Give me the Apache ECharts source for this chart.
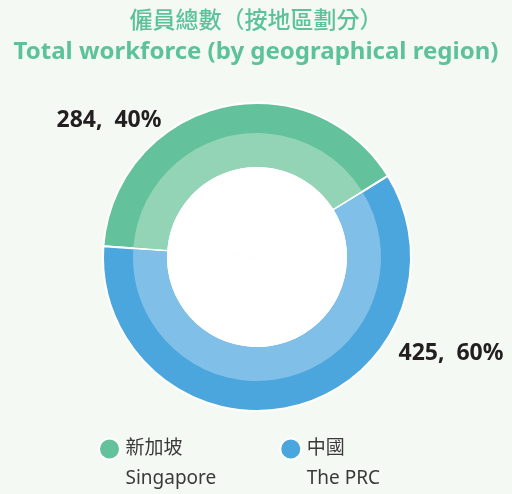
<!DOCTYPE html>
<html>
<head>
<meta charset="utf-8">
<script src="https://cdn.jsdelivr.net/npm/echarts@6/dist/echarts.min.js"></script>
<style>
  html, body { margin: 0; padding: 0; background: #f4f9f3; }
  #chart { width: 512px; height: 494px; }
</style>
</head>
<body>
<div id="chart"></div>
<script>
const regionNamesZh = ['新加坡', '中國']
const regionNamesEn = ['Singapore', 'The PRC']
const headcounts = [284, 425]
const darkColors = ['#63c29b', '#4aa6dc']
const lightColors = ['#93d4b7', '#80bfe7']

const FONT = '"Noto Sans", "Noto Sans CJK TC", sans-serif'
const labelPos = [[109, 120], [451, 353]]

const chart = echarts.init(document.getElementById('chart'))

const seriesData = (colors) => headcounts.map((v, i) => ({
  name: regionNamesZh[i],
  value: v,
  itemStyle: { color: colors[i] }
}))

chart.setOption({
  backgroundColor: '#f4f9f3',
  animation: false,
  title: [
    {
      text: '僱員總數（按地區劃分）',
      left: 'center',
      top: 3,
      textStyle: { color: '#5dc29a', fontSize: 23, fontWeight: 500, fontFamily: '"Noto Sans CJK TC", sans-serif' }
    },
    {
      text: 'Total workforce (by geographical region)',
      left: 'center',
      top: 35,
      textStyle: { color: '#5dc29a', fontSize: 24, fontWeight: 'bold', fontFamily: FONT }
    }
  ],
  legend: {
    left: 93,
    top: 399,
    itemWidth: 22,
    itemHeight: 21,
    itemGap: 63,
    icon: 'circle',
    data: regionNamesZh,
    itemStyle: { borderColor: '#ffffff', borderWidth: 2 },
    formatter: (name) => '\n' + name + '\n' + regionNamesEn[regionNamesZh.indexOf(name)],
    textStyle: { color: '#3a3a3a', fontSize: 19, lineHeight: 30, fontFamily: FONT }
  },
  series: [
    {
      // outer dark ring
      type: 'pie',
      center: [257, 257],
      radius: [90, 154],
      startAngle: 176,
      percentPrecision: 0,
      itemStyle: { borderColor: '#ffffff', borderWidth: 2 },
      label: {
        show: true,
        formatter: '{c},  {d}%',
        color: '#231f20',
        fontSize: 23,
        fontWeight: 'bold',
        fontFamily: FONT
      },
      labelLine: { show: false },
      labelLayout: (p) => ({
        x: labelPos[p.dataIndex][0],
        y: labelPos[p.dataIndex][1],
        align: 'center',
        verticalAlign: 'middle'
      }),
      data: seriesData(darkColors)
    },
    {
      // inner light ring
      type: 'pie',
      center: [257, 257],
      radius: [90, 124],
      startAngle: 176,
      padAngle: 1.1,
      silent: true,
      label: { show: false },
      labelLine: { show: false },
      data: seriesData(lightColors)
    },
    {
      // white centre
      type: 'pie',
      center: [257, 257],
      radius: [0, 90],
      startAngle: 176,
      silent: true,
      label: { show: false },
      labelLine: { show: false },
      data: headcounts.map((v, i) => ({ name: regionNamesZh[i], value: v, itemStyle: { color: '#ffffff' } }))
    }
  ]
})

window.addEventListener('resize', () => chart.resize())
</script>
</body>
</html>
